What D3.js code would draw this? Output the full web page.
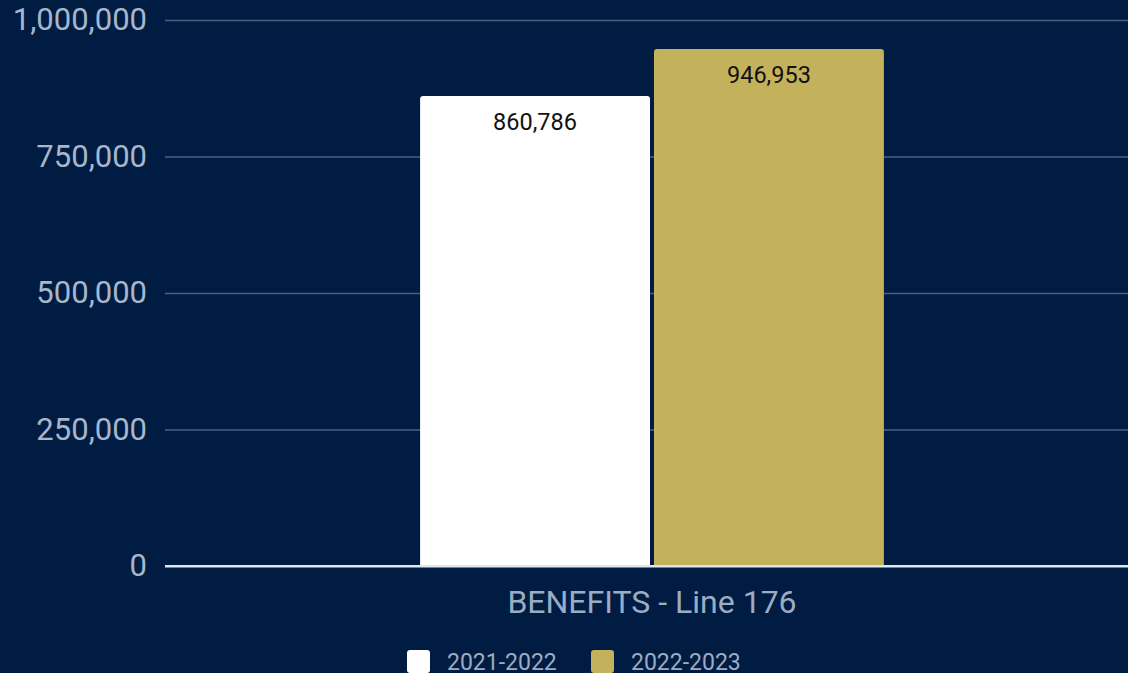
<!DOCTYPE html>
<html>
<head>
<meta charset="utf-8">
<script src="https://cdn.jsdelivr.net/npm/d3@7"></script>
<style>
  html, body { margin: 0; padding: 0; background: #001c42; }
  svg { display: block; font-family: Roboto, "Noto Sans", sans-serif; }
</style>
</head>
<body>
<svg id="chart" width="1128" height="673"></svg>
<script>
// Benefits (Line 176) by fiscal year
const categories = ["BENEFITS - Line 176"];
const seriesNames = ["2021-2022", "2022-2023"];
const seriesValues = [860786, 946953];
const seriesColors = ["#ffffff", "#c4b15b"];
const yTicks = [0, 250000, 500000, 750000, 1000000];

const W = 1128, H = 673;
const margin = { left: 165, right: -11, top: 20, bottom: 107 };
const svg = d3.select("#chart");
svg.append("rect").attr("width", W).attr("height", H).attr("fill", "#001c42");

const y = d3.scaleLinear()
  .domain([0, 1000000])
  .range([H - margin.bottom, margin.top]);

const x0 = d3.scaleBand()
  .domain(categories)
  .range([margin.left, W - margin.right])
  .paddingInner(0)
  .paddingOuter(0.55);

const x1 = d3.scaleBand()
  .domain(seriesNames)
  .range([0, x0.bandwidth()])
  .paddingInner(0.017);

const fmt = d3.format(",");

// gridlines + tick labels
const yAxis = d3.axisLeft(y)
  .tickValues(yTicks)
  .tickFormat(fmt)
  .tickSize(-(W - margin.left))
  .tickPadding(18);

const gy = svg.append("g")
  .attr("transform", `translate(${margin.left},0)`)
  .call(yAxis);
gy.select(".domain").remove();
gy.selectAll(".tick line")
  .attr("stroke", d => d === 0 ? "#dfe6ef" : "#4a5f80")
  .attr("stroke-width", d => d === 0 ? 2 : 1.3);
gy.selectAll(".tick text")
  .attr("fill", "#a7b6ca")
  .attr("font-size", 31)
  .attr("font-family", "Roboto, sans-serif");

// bars
const rows = categories.map(c => seriesNames.map((s, i) => ({ cat: c, series: s, value: seriesValues[i], color: seriesColors[i] })));

const groups = svg.append("g").selectAll("g")
  .data(rows)
  .join("g")
  .attr("transform", (d, i) => `translate(${x0(categories[i])},0)`);

const r = 3;
groups.selectAll("path.bar")
  .data(d => d)
  .join("path")
  .attr("class", "bar")
  .attr("fill", d => d.color)
  .attr("d", d => {
    const x = x1(d.series), w = x1.bandwidth();
    const top = y(d.value), base = y(0) - 1;
    return `M${x},${base}V${top + r}Q${x},${top} ${x + r},${top}H${x + w - r}Q${x + w},${top} ${x + w},${top + r}V${base}Z`;
  });

groups.selectAll("text.val")
  .data(d => d)
  .join("text")
  .attr("class", "val")
  .attr("x", d => x1(d.series) + x1.bandwidth() / 2)
  .attr("y", d => y(d.value) + 34)
  .attr("text-anchor", "middle")
  .attr("font-size", 23.5)
  .attr("fill", "#111111")
  .text(d => fmt(d.value));

// redraw baseline above bars
svg.append("line")
  .attr("x1", margin.left).attr("x2", W)
  .attr("y1", y(0)).attr("y2", y(0))
  .attr("stroke", "#dfe6ef").attr("stroke-width", 2);

// category label
svg.selectAll("text.cat")
  .data(categories)
  .join("text")
  .attr("class", "cat")
  .attr("x", d => x0(d) + x0.bandwidth() / 2)
  .attr("y", 613)
  .attr("text-anchor", "middle")
  .attr("font-size", 32)
  .attr("fill", "#9cacc2")
  .text(d => d);

// legend
const legendX = [407, 591];
const lg = svg.append("g").selectAll("g")
  .data(seriesNames)
  .join("g")
  .attr("transform", (d, i) => `translate(${legendX[i]},650)`);
lg.append("rect")
  .attr("width", 23).attr("height", 23)
  .attr("rx", 3)
  .attr("fill", (d, i) => seriesColors[i]);
lg.append("text")
  .attr("x", 40).attr("y", 20)
  .attr("font-size", 23)
  .attr("fill", "#9cacc2")
  .text(d => d);
</script>
</body>
</html>
